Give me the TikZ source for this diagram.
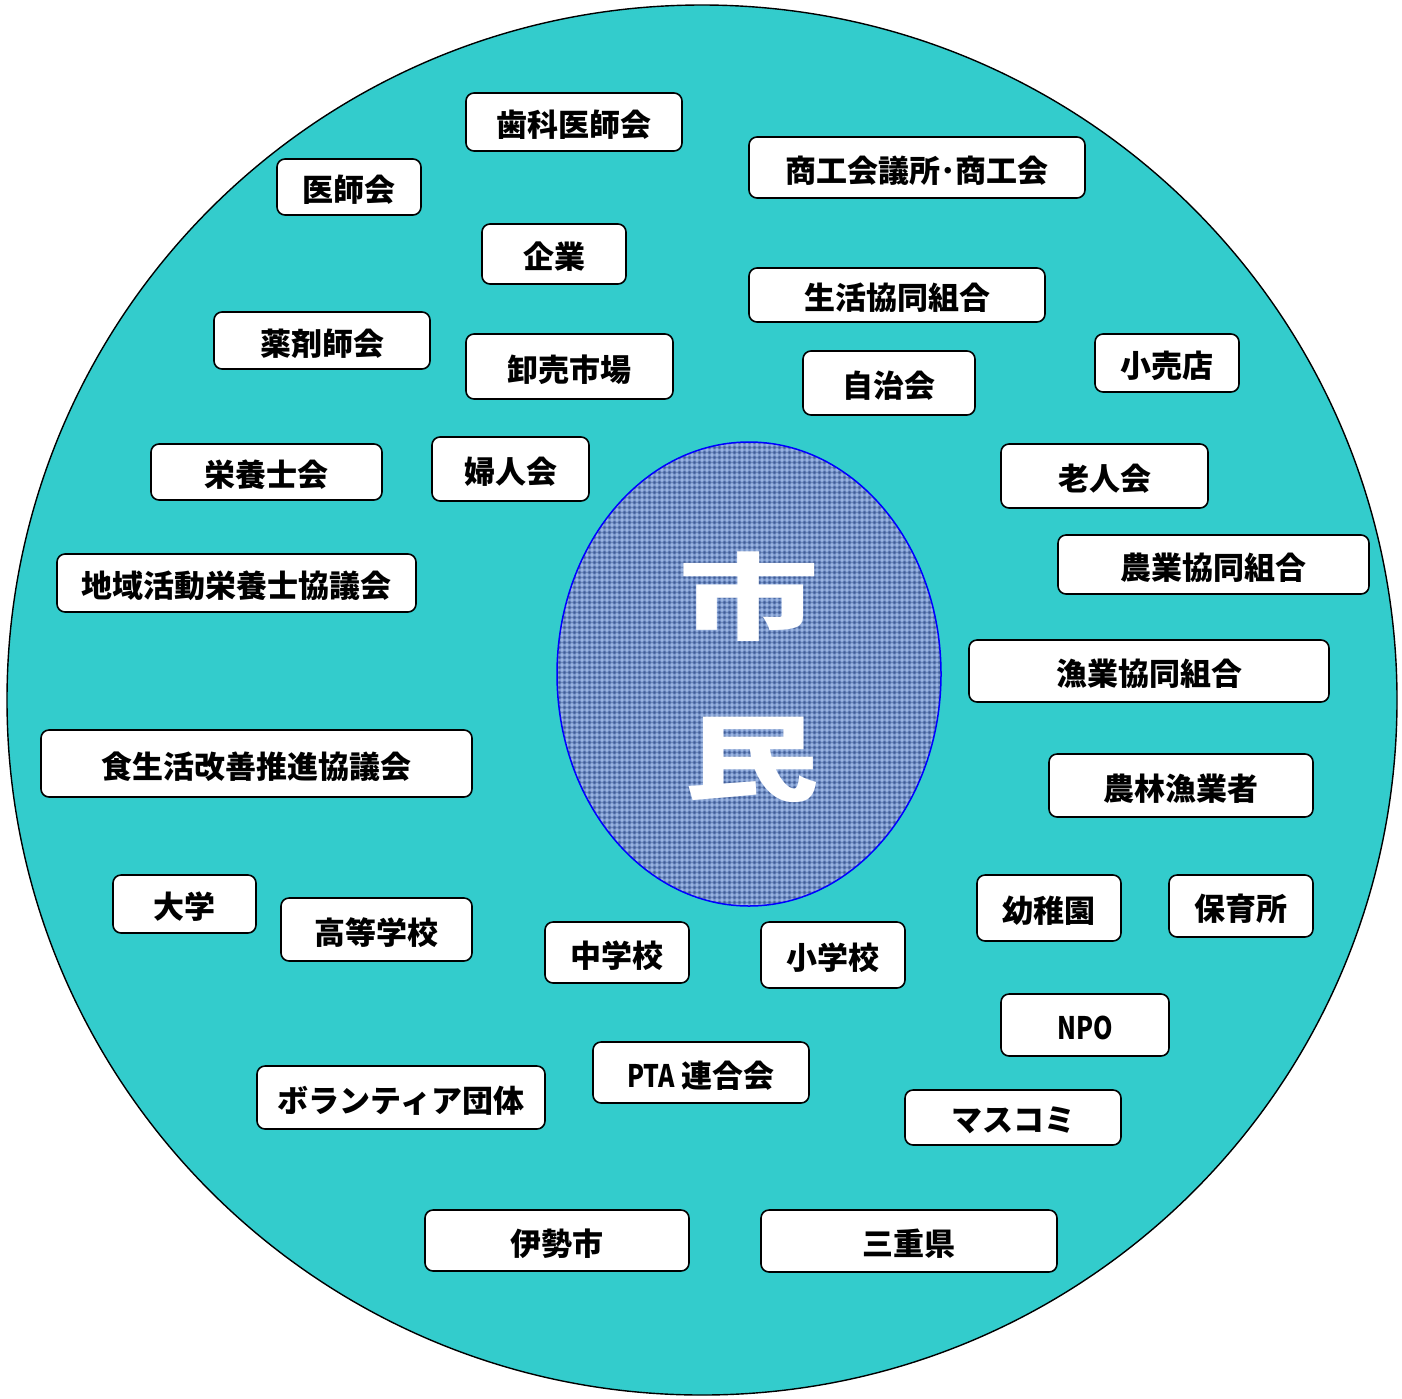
\documentclass[tikz,border=0pt]{standalone}
\usepackage{fontspec}
\usetikzlibrary{shapes.geometric}
\setmainfont{Noto Sans CJK JP}
\definecolor{teal1}{RGB}{51,204,204}
\definecolor{fab}{RGB}{98,128,186}
\definecolor{fabl}{RGB}{175,200,240}
\definecolor{fabd}{RGB}{40,65,120}
\definecolor{eblue}{RGB}{0,0,255}
\tikzset{
  boxst/.style={draw=black, line width=1.6pt, fill=white, rounded corners=8pt, inner sep=0pt},
  boxtxt/.style={font=\bfseries\fontsize{31}{33}\selectfont, text=black, inner sep=0pt},
  bigtxt/.style={text=white, font=\bfseries\fontsize{94}{94}\selectfont, inner sep=0pt}
}
\newcommand\bx[6]{\node[boxst, minimum width={#4-#2}, minimum height={#5-#3}] (#1) at ({(#2+#4)/2},{(#3+#5)/2}) {};
  \node[boxtxt] (#1t) at ({(#2+#4)/2},{(#3+#5)/2+3}) {#6};}
\newcommand\nar[1]{\scalebox{0.8}[1]{#1}}
\begin{document}
\begin{tikzpicture}[x=1pt,y=-1pt]
\useasboundingbox (0,0) rectangle (1402,1398);
\fill[white] (0,0) rectangle (1402,1398);
\node[circle, draw=black, line width=1.4pt, fill=teal1, minimum size=1390pt, inner sep=0pt] (outer) at (702,700) {};
% fabric ellipse
\begin{scope}
\clip (749,674) ellipse [x radius=192, y radius=232];
\fill[fab] (540,430) rectangle (960,920);
\foreach \i in {0,...,84}{
  \draw[fabl, line width=1.3pt, opacity=0.55] ({557+\i*5},440) -- ({557+\i*5},910);
  \draw[fabd, line width=0.9pt, opacity=0.35] ({559.5+\i*5},440) -- ({559.5+\i*5},910);
}
\foreach \i in {0,...,94}{
  \draw[fabl, line width=1.3pt, opacity=0.45] (550,{440+\i*5}) -- (950,{440+\i*5});
  \draw[fabd, line width=0.9pt, opacity=0.3] (550,{442.5+\i*5}) -- (950,{442.5+\i*5});
}
\end{scope}
\node[ellipse, draw=eblue, line width=1.5pt, minimum width=384pt, minimum height=464pt, inner sep=0pt] (shimin) at (749,674) {};
\node[bigtxt] (shi) at (749,597) {\scalebox{1.5}[1]{市}};
\node[bigtxt] (min) at (752,760) {\scalebox{1.45}[1]{民}};
% boxes
\bx{b1}{466}{93}{682}{151}{歯科医師会}
\bx{b2}{277}{159}{421}{215}{医師会}
\bx{b3}{749}{137}{1085}{198}{商工会議所･商工会}
\bx{b4}{482}{224}{626}{284}{企業}
\bx{b5}{749}{268}{1045}{322}{生活協同組合}
\bx{b6}{214}{312}{430}{369}{薬剤師会}
\bx{b7}{466}{334}{673}{399}{卸売市場}
\bx{b8}{803}{351}{975}{415}{自治会}
\bx{b9}{1095}{334}{1239}{392}{小売店}
\bx{b10}{151}{444}{382}{500}{栄養士会}
\bx{b11}{432}{437}{589}{501}{婦人会}
\bx{b12}{1001}{444}{1208}{508}{老人会}
\bx{b13}{57}{554}{416}{612}{地域活動栄養士協議会}
\bx{b14}{1058}{535}{1369}{594}{農業協同組合}
\bx{b15}{969}{640}{1329}{702}{漁業協同組合}
\bx{b16}{41}{730}{472}{797}{食生活改善推進協議会}
\bx{b17}{1049}{754}{1313}{817}{農林漁業者}
\bx{b18}{113}{875}{256}{933}{大学}
\bx{b19}{281}{898}{472}{961}{高等学校}
\bx{b20}{545}{922}{689}{983}{中学校}
\bx{b21}{761}{922}{905}{988}{小学校}
\bx{b22}{977}{875}{1121}{941}{幼稚園}
\bx{b23}{1169}{875}{1313}{937}{保育所}
\bx{b24}{1001}{994}{1169}{1056}{\nar{NPO}}
\bx{b25}{593}{1042}{809}{1103}{\nar{PTA} 連合会}
\bx{b26}{257}{1066}{545}{1129}{ボランティア団体}
\bx{b27}{905}{1090}{1121}{1145}{マスコミ}
\bx{b28}{425}{1210}{689}{1271}{伊勢市}
\bx{b29}{761}{1210}{1057}{1272}{三重県}
\end{tikzpicture}
\end{document}
